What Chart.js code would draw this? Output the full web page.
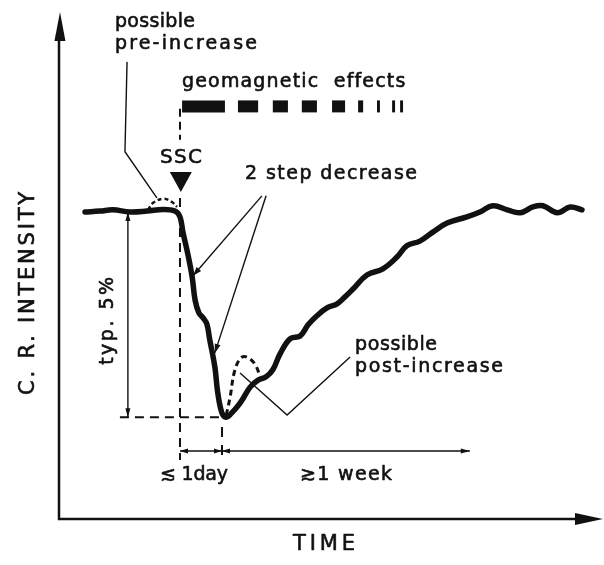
<!DOCTYPE html>
<html><head><meta charset="utf-8">
<script src="https://cdn.jsdelivr.net/npm/chart.js@4.4.0/dist/chart.umd.min.js"></script>
<style>html,body{margin:0;background:#fff}#wrap{width:604px;height:565px}</style>
</head><body><div id="wrap"><canvas id="c"></canvas></div>
<script>
// ---- axes ranges: time in days after SSC, intensity change in % ----
const TIME_MIN = -2.88, TIME_MAX = 10.07;
const INT_MIN = -7.45, INT_MAX = 4.85;

// ---- main cosmic-ray intensity curve ----
const curveTime = [-2.26,-1.90,-1.60,-1.19,-0.79,-0.40,-0.12,0.00,0.07,0.19,0.29,0.36,0.45,0.55,0.64,0.71,0.83,0.90,1.00,1.10,1.21,1.43,1.67,1.86,2.05,2.21,2.38,2.62,2.86,3.05,3.26,3.50,3.74,3.93,4.12,4.45,4.83,5.17,5.40,5.71,6.02,6.36,6.83,7.14,7.45,7.79,8.10,8.40,8.64,8.98,9.29,9.57];
const curveInt  = [0.00,0.02,0.05,0.00,0.02,0.06,0.02,-0.12,-0.49,-1.04,-1.58,-2.14,-2.45,-2.57,-2.72,-3.11,-3.76,-4.39,-4.88,-4.98,-4.90,-4.64,-4.25,-4.08,-4.00,-3.83,-3.45,-3.08,-3.01,-2.74,-2.52,-2.33,-2.23,-2.06,-1.87,-1.53,-1.38,-1.09,-0.82,-0.71,-0.49,-0.27,-0.12,0.00,0.15,0.05,-0.02,0.12,0.15,-0.02,0.12,0.05];

// ---- possible pre-increase (dashed) ----
const preTime = [-0.76,-0.64,-0.40,-0.19,-0.07];
const preInt  = [0.05,0.22,0.32,0.24,0.12];

// ---- possible post-increase (dashed) ----
const postTime = [1.10,1.19,1.31,1.48,1.67,1.81,1.90];
const postInt  = [-4.93,-4.51,-3.83,-3.52,-3.57,-3.74,-3.98];

// ---- geomagnetic effects bar ----
const GEO_LEVEL = 2.56;
const geoStart = [0.05,1.38,2.21,2.90,3.62,4.24,4.69,5.05,5.24];
const geoEnd   = [1.07,1.86,2.57,3.26,3.93,4.36,4.76,5.12,5.31];

// ---- guide and pointer lines [time, intensity] ----
const prePointer   = [[-1.26,3.64],[-1.31,1.46],[-0.55,0.34]];
const stepPointerA = [[1.95,0.39],[0.31,-1.55]];
const stepPointerB = [[2.05,0.39],[0.83,-3.42]];
const postPointer  = [[1.43,-3.91],[2.55,-4.93],[4.05,-3.52]];
const sscGuideTop  = [[0,2.50],[0,1.75]];
const sscGuide     = [[0,0.34],[0,-6.02]];
const minGuide     = [[-1.43,-4.98],[1.00,-4.98]];
const dayGuide     = [[1.00,-5.22],[1.00,-6.02]];
const DUR_LEVEL = -5.80;
const dayArrow     = [[0,DUR_LEVEL],[1.00,DUR_LEVEL]];
const weekArrow    = [[1.00,DUR_LEVEL],[6.90,DUR_LEVEL]];
const ampArrow     = [[-1.24,0.00],[-1.24,-4.98]];

// ---- SSC marker ----
const SSC_TIME = 0.02, SSC_TIP = 0.485, SSC_TOP = 0.97;

// ---- text labels ----
const labelText  = ['possible','pre-increase','geomagnetic  effects','SSC','2 step decrease','typ. 5%','\u2272 1day','\u22731 week','possible','post-increase','C. R. INTENSITY','TIME'];
const labelTime  = [-1.548,-1.548,0.048,-0.476,1.548,-1.595,-0.476,2.857,4.167,4.167,-3.476,2.69];
const labelInt   = [4.49,3.96,3.03,1.19,0.80,-3.71,-6.50,-6.50,-3.35,-3.88,-4.44,-8.20];
const labelWidth = [80,142,223,42,172,88,68,92,82,148,203,62];
const labelRot   = [0,0,0,0,0,1,0,0,0,0,1,0];
const labelSize  = [19,19,19,20,19,19,19,19,19,19,21,21];

const pts = a => a.map(p => ({x:p[0], y:p[1]}));
const zip = (xs, ys) => xs.map((x,i) => ({x, y: ys[i]}));
function seg(data, extra) {
  return Object.assign({data, showLine:true, pointRadius:0, borderColor:'#111', backgroundColor:'#111',
    borderWidth:1.4, tension:0, fill:false}, extra || {});
}
const datasets = [
  seg(zip(curveTime, curveInt), {borderWidth:5.5, tension:0.4, borderCapStyle:'round', borderJoinStyle:'round'}),
  seg(zip(preTime, preInt), {borderWidth:2.5, tension:0.4, borderDash:[4,3]}),
  seg(zip(postTime, postInt), {borderWidth:3, tension:0.4, borderDash:[6,4]}),
  seg(pts(prePointer)), seg(pts(stepPointerA)), seg(pts(stepPointerB)), seg(pts(postPointer)),
  seg(pts(sscGuideTop), {borderWidth:2, borderDash:[8,5]}),
  seg(pts(sscGuide), {borderWidth:2, borderDash:[9,6]}),
  seg(pts(minGuide), {borderWidth:2, borderDash:[9,6]}),
  seg(pts(dayGuide), {borderWidth:2, borderDash:[10,8]}),
  seg(pts(dayArrow), {borderWidth:1.6}), seg(pts(weekArrow), {borderWidth:1.6}),
  seg(pts(ampArrow), {borderWidth:1.4})
];
geoStart.forEach((s,i) => datasets.push(seg([{x:s,y:GEO_LEVEL},{x:geoEnd[i],y:GEO_LEVEL}], {borderWidth:12, borderCapStyle:'butt'})));

function arrowHead(ctx, x0, y0, x1, y1, len, half) {
  const a = Math.atan2(y1 - y0, x1 - x0);
  ctx.beginPath();
  ctx.moveTo(x1, y1);
  ctx.lineTo(x1 - len*Math.cos(a) + half*Math.sin(a), y1 - len*Math.sin(a) - half*Math.cos(a));
  ctx.lineTo(x1 - len*Math.cos(a) - half*Math.sin(a), y1 - len*Math.sin(a) + half*Math.cos(a));
  ctx.closePath(); ctx.fill();
}

const decor = {
  id: 'decor',
  afterDatasetsDraw(chart) {
    const ctx = chart.ctx, xs = chart.scales.x, ys = chart.scales.y;
    const X = v => xs.getPixelForValue(v), Y = v => ys.getPixelForValue(v);
    ctx.save();
    ctx.fillStyle = '#111'; ctx.strokeStyle = '#111';
    // axes
    const x0 = X(TIME_MIN), y0 = Y(INT_MIN), x1 = X(TIME_MAX), y1 = Y(INT_MAX);
    ctx.lineWidth = 2.5;
    ctx.beginPath(); ctx.moveTo(x0, y1 + 20); ctx.lineTo(x0, y0); ctx.lineTo(x1 - 20, y0); ctx.stroke();
    arrowHead(ctx, x0, y0, x0 + 1, y1, 29, 5.5);
    arrowHead(ctx, x0, y0, x1, y0, 28, 6);
    // pointer arrowheads
    const ah = (p, q, l, h) => arrowHead(ctx, X(p[0]), Y(p[1]), X(q[0]), Y(q[1]), l, h);
    ah(stepPointerA[0], stepPointerA[1], 9, 3);
    ah(stepPointerB[0], stepPointerB[1], 9, 3);
    ah(ampArrow[1], ampArrow[0], 9, 2.5);
    ah(ampArrow[0], ampArrow[1], 9, 2.5);
    ah(dayArrow[1], dayArrow[0], 8, 2.5);
    ah(dayArrow[0], dayArrow[1], 8, 2.5);
    ah(weekArrow[1], weekArrow[0], 8, 2.5);
    ah(weekArrow[0], weekArrow[1], 9, 2.5);
    // SSC triangle
    const tx = X(SSC_TIME);
    ctx.beginPath(); ctx.moveTo(tx, Y(SSC_TIP)); ctx.lineTo(tx - 11, Y(SSC_TOP)); ctx.lineTo(tx + 11, Y(SSC_TOP)); ctx.closePath(); ctx.fill();
    // texts
    labelText.forEach((txt, i) => {
      ctx.save();
      ctx.font = labelSize[i] + 'px "DejaVu Sans"';
      ctx.textAlign = 'left'; ctx.textBaseline = 'alphabetic';
      ctx.letterSpacing = '0px';
      const w0 = ctx.measureText(txt).width;
      const n = Array.from(txt).length;
      const sp = n > 1 ? (labelWidth[i] - w0) / (n - 1) : 0;
      ctx.letterSpacing = sp.toFixed(2) + 'px';
      ctx.translate(X(labelTime[i]), Y(labelInt[i]));
      if (labelRot[i]) ctx.rotate(-Math.PI / 2);
      ctx.lineWidth = 0.6; ctx.lineJoin = 'round';
      ctx.fillText(txt, 0, 0);
      ctx.strokeText(txt, 0, 0);
      ctx.restore();
    });
    ctx.restore();
  }
};

new Chart(document.getElementById('c'), {
  type: 'scatter',
  data: { datasets },
  options: {
    responsive: true, maintainAspectRatio: false, animation: false, events: [],
    layout: { padding: { left: 59, right: 1, top: 12, bottom: 46 } },
    plugins: { legend: { display: false }, tooltip: { enabled: false } },
    scales: {
      x: { type: 'linear', display: false, min: TIME_MIN, max: TIME_MAX },
      y: { type: 'linear', display: false, min: INT_MIN, max: INT_MAX }
    }
  },
  plugins: [decor]
});
</script></body></html>
